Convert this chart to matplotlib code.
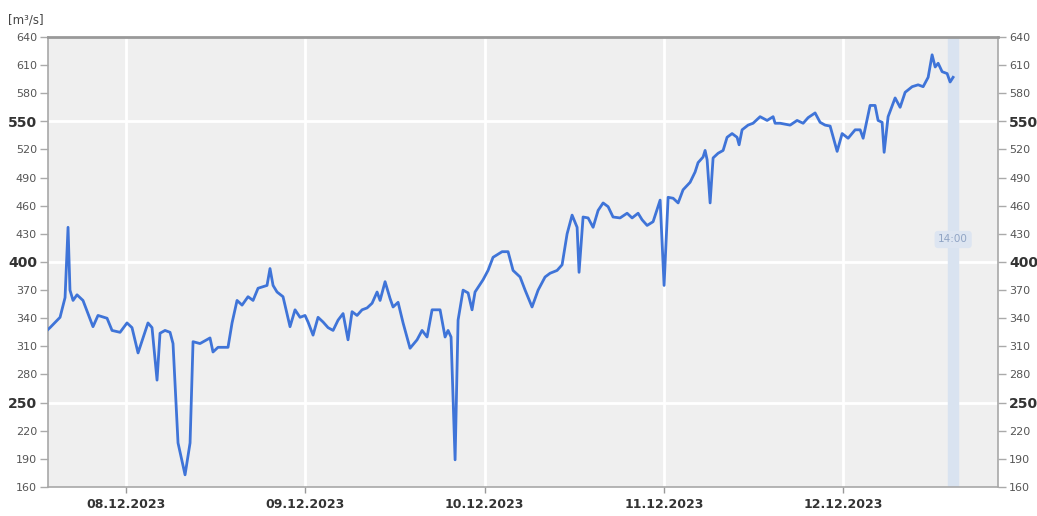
import numpy as np
import matplotlib
matplotlib.use("Agg")
import matplotlib.pyplot as plt
import matplotlib.dates as mdates
from datetime import datetime, timedelta

# hours since 08.12.2023 00:00 and discharge in m³/s
hours = [-10.44, -10.17, -8.83, -8.16, -7.76, -7.50, -7.09, -6.56, -5.76, -4.42,
         -3.75, -2.54, -1.87, -0.80, 0.13, 0.80, 1.61, 2.28, 2.94, 3.48,
         4.15, 4.55, 5.22, 5.89, 6.29, 6.96, 7.90, 8.57, 8.97, 9.90,
         11.24, 11.64, 12.31, 13.65, 14.19, 14.86, 15.53, 16.33, 17.00, 17.67,
         18.87, 19.27, 19.68, 20.21, 21.01, 21.95, 22.62, 23.29, 23.96, 24.36,
         25.03, 25.70, 26.37, 27.04, 27.71, 28.38, 29.05, 29.71, 30.25, 30.92,
         31.59, 32.26, 32.93, 33.60, 34.00, 34.67, 35.34, 35.74, 36.41, 37.08,
         38.01, 38.95, 39.62, 40.29, 40.96, 42.03, 42.70, 43.10, 43.50, 44.04,
         44.44, 45.11, 45.78, 46.31, 46.71, 47.78, 48.45, 49.12, 50.33, 51.13,
         51.80, 52.74, 53.41, 54.34, 55.15, 56.08, 56.75, 57.69, 58.36, 59.03,
         59.70, 60.37, 60.63, 61.17, 61.84, 62.51, 63.18, 63.85, 64.52, 65.18,
         66.12, 67.06, 67.73, 68.53, 69.07, 69.74, 70.54, 71.48, 72.01, 72.55,
         73.22, 73.89, 74.55, 75.49, 76.16, 76.56, 77.23, 77.50, 77.77, 78.17,
         78.57, 79.24, 79.91, 80.44, 81.11, 81.78, 82.05, 82.45, 83.25, 83.92,
         84.86, 85.80, 86.60, 86.87, 87.54, 88.88, 89.81, 90.62, 91.29, 92.22,
         92.89, 93.56, 94.23, 95.17, 95.84, 96.64, 97.58, 98.25, 98.65, 99.58,
         100.25, 100.65, 101.19, 101.46, 101.99, 102.93, 103.60, 104.27, 105.21, 106.01,
         106.68, 107.35, 107.88, 108.29, 108.69, 109.22, 109.89, 110.29, 110.69]
flow = [328, 330, 341, 362, 437, 370, 359, 365, 359, 331,
        343, 340, 327, 325, 335, 330, 303, 319, 335, 330,
        274, 324, 327, 325, 313, 207, 173, 207, 315, 313,
        319, 304, 309, 309, 335, 359, 354, 363, 359, 372,
        375, 393, 375, 368, 363, 331, 349, 341, 343, 336,
        322, 341, 336, 330, 327, 338, 345, 317, 347, 343,
        349, 351, 356, 368, 359, 379, 361, 352, 357, 335,
        308, 317, 327, 320, 349, 349, 320, 327, 320, 189,
        338, 370, 367, 349, 368, 381, 391, 405, 411, 411,
        391, 384, 370, 352, 370, 384, 388, 391, 397, 430,
        450, 437, 389, 448, 447, 437, 455, 463, 459, 448,
        447, 452, 447, 452, 445, 439, 443, 466, 375, 469,
        468, 463, 477, 485, 496, 506, 512, 519, 509, 463,
        511, 516, 519, 533, 537, 533, 525, 541, 546, 548,
        555, 551, 555, 548, 548, 546, 551, 548, 554, 559,
        549, 546, 545, 518, 537, 532, 541, 541, 532, 567,
        567, 551, 549, 517, 555, 575, 565, 581, 587, 589,
        587, 597, 621, 608, 612, 603, 601, 592, 597]

day_ticks = ["2023-12-08", "2023-12-09", "2023-12-10", "2023-12-11", "2023-12-12"]
y_ticks = list(range(160, 641, 30))
bold_ticks = [250, 400, 550]
marker_label = "14:00"

base = datetime(2023, 12, 8)
times = [base + timedelta(hours=h) for h in hours]
t_start = base + timedelta(hours=-10.44)
t_end = base + timedelta(hours=116.7)
marker_time = base + timedelta(hours=110.0)

fig = plt.figure(figsize=(10.37, 5.16), dpi=100)
ax = fig.add_axes([0.0463, 0.0562, 0.9161, 0.8721])
ax.set_facecolor("#efefef")

# white grid lines
for d in day_ticks:
    ax.axvline(datetime.fromisoformat(d), color="white", lw=2, zorder=1)
for v in bold_ticks:
    ax.axhline(v, color="white", lw=2, zorder=1)

# current time band
ax.axvspan(marker_time, marker_time + timedelta(hours=1.4), color="#d9e3f0", zorder=1.5)

ax.plot(times, flow, color="#3f74d8", lw=2, zorder=3, solid_joinstyle="round")

ax.text(marker_time + timedelta(hours=0.7), 424, marker_label, ha="center", va="center",
        fontsize=7.5, color="#90a4c4", zorder=4,
        bbox=dict(boxstyle="round,pad=0.35", fc="#dde5f1", ec="none"))

ax.set_xlim(t_start, t_end)
ax.set_ylim(160, 640)

ax.set_xticks([datetime.fromisoformat(d) for d in day_ticks])
ax.xaxis.set_major_formatter(mdates.DateFormatter("%d.%m.%Y"))
ax.tick_params(axis="x", length=4, width=1, color="#999999", pad=4,
               labelsize=9, labelcolor="#333333")
for lab in ax.get_xticklabels():
    lab.set_fontweight("bold")

ax.set_yticks(y_ticks)
ax.tick_params(axis="y", which="both", left=True, right=True, labelleft=True, labelright=True,
               length=6, width=1, color="#aaaaaa", pad=2, labelsize=8, labelcolor="#555555")
for tick, v in zip(ax.yaxis.get_major_ticks(), y_ticks):
    if v in bold_ticks:
        for lab in (tick.label1, tick.label2):
            lab.set_fontweight("bold")
            lab.set_fontsize(10)
            lab.set_color("#333333")

for side in ["left", "right", "bottom", "top"]:
    ax.spines[side].set_color("#a8a8a8")
    ax.spines[side].set_linewidth(1.2)
ax.spines["top"].set_linewidth(2)
ax.spines["top"].set_color("#999999")

fig.text(8 / 1037, 1 - 20 / 516, "[m³/s]", fontsize=8.5, color="#444444", va="center", ha="left")

fig.savefig("out.png", dpi=100, facecolor="white")
